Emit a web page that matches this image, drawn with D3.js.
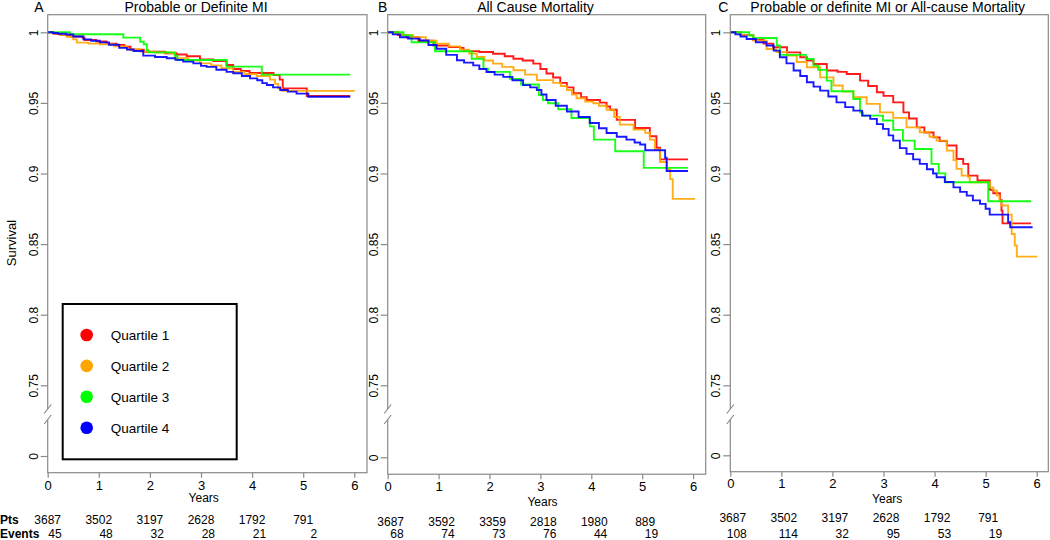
<!DOCTYPE html>
<html><head><meta charset="utf-8">
<script src="https://cdn.jsdelivr.net/npm/d3@7"></script>
<style>body{margin:0;background:#fff} text{font-family:Arial,"Liberation Sans",Helvetica,sans-serif;fill:#000}</style>
</head><body><svg id="c" width="1050" height="540"></svg>
<script>
// ---------- data ----------
const yearTicks = [0, 1, 2, 3, 4, 5, 6];
const survTicks = [0, 0.75, 0.8, 0.85, 0.9, 0.95, 1];
const survTickLabels = ["0", "0.75", "0.8", "0.85", "0.9", "0.95", "1"];
const quartiles = ["Quartile 1", "Quartile 2", "Quartile 3", "Quartile 4"];
const quartileColors = ["#FF0000", "#FFA500", "#00FF00", "#0000FF"];
const panelLetters = ["A", "B", "C"];
const panelTitles = ["Probable or Definite MI", "All Cause Mortality", "Probable or definite MI or All-cause Mortality"];

const ptsA = [3687, 3502, 3197, 2628, 1792, 791];
const eventsA = [45, 48, 32, 28, 21, 2];
const ptsB = [3687, 3592, 3359, 2818, 1980, 889];
const eventsB = [68, 74, 73, 76, 44, 19];
const ptsC = [3687, 3502, 3197, 2628, 1792, 791];
const eventsC = [108, 114, 32, 95, 53, 19];

// Kaplan-Meier step points [years, survival] — Panel A: Probable or Definite MI
const miQ1 = [[0,1],[0.12,0.999],[0.25,0.998],[0.45,0.997],[0.68,0.9962],[0.72,0.9945],[0.95,0.9935],[1.15,0.992],[1.35,0.991],[1.5,0.9898],[1.62,0.9876],[1.88,0.9862],[2.3,0.9852],[2.52,0.9843],[2.72,0.983],[2.98,0.9808],[3.24,0.9796],[3.5,0.9768],[3.63,0.974],[3.78,0.9726],[3.95,0.9712],[4.42,0.9698],[4.54,0.9665],[4.6,0.9603],[5.07,0.9549],[5.92,0.9549]];
const miQ2 = [[0,1],[0.1,0.9993],[0.25,0.998],[0.37,0.9969],[0.5,0.995],[0.57,0.9927],[0.8,0.992],[1.02,0.9915],[1.3,0.99],[1.55,0.988],[1.81,0.9863],[2.1,0.9857],[2.4,0.9851],[2.49,0.9816],[2.75,0.98],[2.98,0.978],[3.2,0.9765],[3.4,0.9745],[3.63,0.972],[3.85,0.9705],[4.09,0.969],[4.35,0.9665],[4.45,0.9635],[4.51,0.9603],[4.58,0.9585],[6.01,0.9585]];
const miQ3 = [[0,1],[0.44,0.9986],[1.48,0.9962],[1.81,0.9933],[1.88,0.9915],[1.94,0.9875],[1.97,0.9858],[2.49,0.9834],[2.54,0.9804],[3.5,0.9757],[4.19,0.97],[5.92,0.97]];
const miQ4 = [[0,1],[0.1,0.9995],[0.2,0.999],[0.37,0.9984],[0.5,0.997],[0.7,0.995],[0.85,0.994],[1.02,0.9929],[1.2,0.9912],[1.4,0.989],[1.55,0.9878],[1.68,0.9868],[1.87,0.9835],[2.1,0.9825],[2.33,0.9816],[2.5,0.9805],[2.65,0.9792],[2.85,0.978],[3.0,0.9762],[3.11,0.9755],[3.3,0.9735],[3.5,0.972],[3.63,0.971],[3.8,0.969],[3.96,0.9674],[4.1,0.966],[4.2,0.964],[4.29,0.9627],[4.41,0.961],[4.55,0.9591],[4.7,0.958],[4.87,0.9566],[5.1,0.9544],[5.92,0.9544]];

// Panel B: All Cause Mortality
const acmQ1 = [[0,1],[0.2,0.998],[0.37,0.9965],[0.6,0.994],[0.9,0.9907],[1.2,0.9895],[1.42,0.989],[1.49,0.9867],[1.8,0.986],[2.07,0.9848],[2.3,0.983],[2.47,0.9813],[2.65,0.98],[2.86,0.9778],[3.0,0.974],[3.12,0.9708],[3.25,0.968],[3.39,0.9642],[3.52,0.961],[3.65,0.9568],[3.8,0.954],[3.91,0.9521],[4.17,0.9502],[4.3,0.9475],[4.37,0.9451],[4.5,0.938],[4.86,0.9322],[5.15,0.9264],[5.28,0.9182],[5.35,0.91],[5.9,0.91]];
const acmQ2 = [[0,1],[0.15,0.999],[0.3,0.998],[0.5,0.9965],[0.75,0.994],[0.96,0.9919],[1.2,0.99],[1.42,0.9877],[1.6,0.985],[1.75,0.9825],[1.9,0.98],[2.07,0.9778],[2.25,0.9755],[2.47,0.9731],[2.7,0.97],[2.93,0.9661],[3.25,0.9642],[3.4,0.962],[3.52,0.9591],[3.62,0.956],[3.71,0.9533],[3.88,0.951],[4.04,0.9498],[4.15,0.948],[4.3,0.9451],[4.45,0.94],[4.56,0.9346],[4.83,0.9311],[5.06,0.9288],[5.15,0.924],[5.25,0.917],[5.35,0.9081],[5.49,0.903],[5.55,0.896],[5.6,0.882],[6.04,0.882]];
const acmQ3 = [[0,1],[0.31,0.9977],[0.47,0.993],[0.93,0.9866],[1.65,0.9813],[1.88,0.9743],[1.97,0.972],[2.4,0.967],[2.62,0.963],[2.97,0.9556],[3.05,0.952],[3.15,0.9498],[3.35,0.9455],[3.61,0.9393],[3.97,0.9334],[4.05,0.924],[4.47,0.9158],[5.03,0.904],[5.9,0.904]];
const acmQ4 = [[0,1],[0.1,0.9985],[0.24,0.9965],[0.4,0.9955],[0.63,0.9942],[0.8,0.991],[0.96,0.9884],[1.15,0.984],[1.36,0.9802],[1.5,0.9785],[1.68,0.9766],[1.8,0.974],[1.94,0.9719],[2.1,0.97],[2.27,0.9684],[2.45,0.966],[2.66,0.9626],[2.8,0.961],[2.93,0.9591],[3.02,0.956],[3.12,0.9521],[3.3,0.948],[3.52,0.9439],[3.75,0.94],[3.97,0.9358],[4.15,0.932],[4.3,0.9287],[4.5,0.926],[4.69,0.924],[4.85,0.922],[4.96,0.9205],[5.06,0.9165],[5.45,0.9112],[5.48,0.9018],[5.9,0.9018]];

// Panel C: Probable or definite MI or All-cause Mortality
const combQ1 = [[0,1],[0.2,0.998],[0.45,0.9946],[0.65,0.992],[0.84,0.9894],[1.11,0.9858],[1.37,0.9823],[1.5,0.98],[1.63,0.9776],[1.89,0.9729],[2.1,0.972],[2.28,0.9705],[2.54,0.9658],[2.7,0.962],[2.87,0.9575],[3.0,0.955],[3.19,0.9504],[3.39,0.9433],[3.5,0.939],[3.65,0.9327],[3.8,0.929],[3.98,0.9256],[4.1,0.923],[4.24,0.9198],[4.43,0.9103],[4.56,0.9068],[4.66,0.8985],[4.84,0.895],[5.08,0.8884],[5.15,0.886],[5.28,0.8813],[5.31,0.8737],[5.33,0.8647],[5.89,0.8647]];
const combQ2 = [[0,1],[0.2,0.998],[0.45,0.9941],[0.71,0.9882],[0.9,0.986],[1.11,0.9835],[1.3,0.979],[1.5,0.9752],[1.76,0.9681],[2.02,0.9623],[2.2,0.958],[2.41,0.954],[2.67,0.9493],[2.93,0.9433],[3.19,0.9394],[3.45,0.9327],[3.71,0.9292],[3.9,0.926],[4.04,0.9233],[4.24,0.9162],[4.37,0.9095],[4.43,0.9033],[4.53,0.8985],[4.66,0.8973],[4.69,0.8938],[5.08,0.8902],[5.15,0.8879],[5.22,0.8843],[5.27,0.8808],[5.31,0.8773],[5.44,0.8709],[5.51,0.8572],[5.57,0.849],[5.61,0.8411],[6.01,0.8411]];
const combQ3 = [[0,1],[0.37,0.9977],[0.45,0.996],[0.91,0.9906],[0.97,0.984],[1.48,0.9811],[1.63,0.9764],[1.72,0.9734],[1.89,0.9658],[1.98,0.9582],[2.41,0.9528],[2.54,0.9433],[2.6,0.941],[2.99,0.9375],[3.19,0.9309],[3.38,0.9233],[3.61,0.9174],[3.94,0.9068],[4.08,0.9001],[4.21,0.8938],[5.05,0.8803],[5.89,0.8803]];
const combQ4 = [[0,1],[0.1,0.9985],[0.2,0.997],[0.32,0.9953],[0.5,0.993],[0.71,0.9906],[0.85,0.987],[0.97,0.9823],[1.1,0.978],[1.24,0.9729],[1.37,0.969],[1.5,0.9646],[1.63,0.9615],[1.76,0.9587],[1.92,0.9545],[2.08,0.9504],[2.25,0.947],[2.41,0.9445],[2.58,0.941],[2.74,0.9387],[2.87,0.935],[2.99,0.9316],[3.1,0.927],[3.19,0.9233],[3.32,0.918],[3.45,0.9139],[3.58,0.91],[3.71,0.9068],[3.85,0.903],[3.97,0.9],[4.04,0.8973],[4.2,0.894],[4.37,0.8902],[4.5,0.887],[4.63,0.8843],[4.75,0.881],[4.89,0.8785],[5.0,0.875],[5.08,0.8709],[5.44,0.8655],[5.48,0.8619],[5.92,0.8619]];

const panelSeries = [[miQ1, miQ2, miQ3, miQ4], [acmQ1, acmQ2, acmQ3, acmQ4], [combQ1, combQ2, combQ3, combQ4]];
const panelPts = [ptsA, ptsB, ptsC];
const panelEvents = [eventsA, eventsB, eventsC];

// ---------- layout ----------
const layout = [
  {left: 47.7, unit: 51.1, right: 367, bottom: 472.7, yZero: 456, titleX: 196, letterX: 39, tickY: 490, yearsY: 502, yearsX: 203.7, row1: 523.5, row2: 537.5, ptsOff: 0, evOff: 14},
  {left: 387.7, unit: 50.9, right: 705.7, bottom: 474.2, yZero: 457.3, titleX: 535.5, letterX: 382.7, tickY: 491, yearsY: 505.5, yearsX: 542.5, row1: 525.5, row2: 538, ptsOff: 3, evOff: 16},
  {left: 730.3, unit: 51.07, right: 1048.3, bottom: 471.7, yZero: 455.3, titleX: 887.7, letterX: 723.3, tickY: 488.5, yearsY: 502.5, yearsX: 887.2, row1: 521.5, row2: 538, ptsOff: 2.5, evOff: 16.5}
];
const frameTop = 14.7, yOne = 32.3, pxPerUnit = 1412;
const frameColor = "#8a8a8a";

const svg = d3.select("#c");

layout.forEach((L, p) => {
  const g = svg.append("g");
  const x = d3.scaleLinear().domain([0, 6]).range([L.left, L.left + 6 * L.unit]);
  const y = d3.scaleLinear().domain([0, 0.75, 1]).range([L.yZero, yOne + 0.25 * pxPerUnit, yOne]);

  // curves
  const line = d3.line().x(d => x(d[0])).y(d => y(d[1])).curve(d3.curveStepAfter);
  panelSeries[p].forEach((s, i) => {
    g.append("path").datum(s).attr("d", line).attr("fill", "none")
      .attr("stroke", quartileColors[i]).attr("stroke-width", 1.9).attr("stroke-opacity", 0.9);
  });

  // frame
  g.append("rect").attr("x", L.left).attr("y", frameTop).attr("width", L.right - L.left).attr("height", L.bottom - frameTop)
    .attr("fill", "none").attr("stroke", frameColor).attr("stroke-width", 1.2);

  // y axis ticks
  const yAxis = d3.axisLeft(y).tickValues(survTicks).tickSize(7).tickFormat((d, i) => survTickLabels[i]);
  const ya = g.append("g").attr("transform", `translate(${L.left},0)`).call(yAxis);
  ya.select(".domain").remove();
  ya.selectAll(".tick line").attr("stroke", frameColor).attr("stroke-width", 1.2);
  ya.selectAll(".tick text").attr("x", 0).attr("dy", null).attr("y", 0)
    .attr("transform", "translate(-10,0) rotate(-90)").attr("text-anchor", "middle")
    .attr("dominant-baseline", "auto").style("font-size", "12px").style("font-family", "Arial,'Liberation Sans',sans-serif").attr("fill", "#000");

  // axis break
  const b1 = 409, b2 = 419.5;
  g.append("rect").attr("x", L.left - 2).attr("y", b1).attr("width", 4).attr("height", b2 - b1).attr("fill", "#fff");
  [b1, b2].forEach(c => {
    g.append("line").attr("x1", L.left - 3.5).attr("y1", c + 4.5).attr("x2", L.left + 3.5).attr("y2", c - 4.5)
      .attr("stroke", frameColor).attr("stroke-width", 1.2);
  });

  // x axis
  const xAxis = d3.axisBottom(x).tickValues(yearTicks).tickSize(5).tickFormat(d3.format("d"));
  const xa = g.append("g").attr("transform", `translate(0,${L.bottom})`).call(xAxis);
  xa.select(".domain").remove();
  xa.selectAll(".tick line").attr("stroke", frameColor).attr("stroke-width", 1.2);
  xa.selectAll(".tick text").attr("y", L.tickY - L.bottom).attr("dy", null)
    .style("font-size", "13px").style("font-family", "Arial,'Liberation Sans',sans-serif").attr("fill", "#000");

  g.append("text").attr("x", L.yearsX).attr("y", L.yearsY).attr("text-anchor", "middle").style("font-size", "12px").text("Years");

  // titles
  g.append("text").attr("x", L.letterX).attr("y", 11.5).attr("text-anchor", "middle").style("font-size", "14px").text(panelLetters[p]);
  g.append("text").attr("x", L.titleX).attr("y", 11.5).attr("text-anchor", "middle").style("font-size", "14px").text(panelTitles[p]);

  // at-risk table
  panelPts[p].forEach((v, i) => {
    g.append("text").attr("x", x(i) + L.ptsOff).attr("y", L.row1).attr("text-anchor", "middle").style("font-size", "12px").text(v);
  });
  panelEvents[p].forEach((v, i) => {
    g.append("text").attr("x", x(i) + L.evOff).attr("y", L.row2).attr("text-anchor", "end").style("font-size", "12px").text(v);
  });
});

// row labels
svg.append("text").attr("x", 0).attr("y", layout[0].row1).style("font-size", "12px").style("font-weight", "bold").text("Pts");
svg.append("text").attr("x", 0).attr("y", layout[0].row2).style("font-size", "12px").style("font-weight", "bold").text("Events");

// y title
svg.append("text").attr("transform", "translate(16,243) rotate(-90)").attr("text-anchor", "middle").style("font-size", "13px").text("Survival");

// legend
const lg = svg.append("g");
lg.append("rect").attr("x", 62.7).attr("y", 304).attr("width", 174).attr("height", 155.3)
  .attr("fill", "#fff").attr("stroke", "#000").attr("stroke-width", 2);
const ly = d3.scalePoint().domain(quartiles).range([335, 427.7]);
quartiles.forEach((q, i) => {
  lg.append("circle").attr("cx", 86.7).attr("cy", ly(q)).attr("r", 6.3).attr("fill", quartileColors[i]);
  lg.append("text").attr("x", 110.7).attr("y", ly(q) + 5).style("font-size", "13.5px").text(q);
});
</script></body></html>
